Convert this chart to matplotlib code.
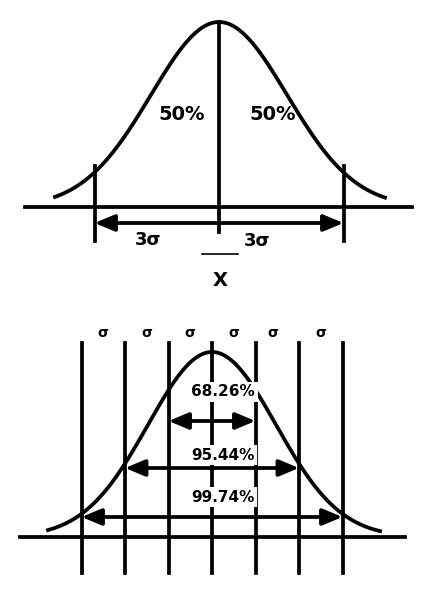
import numpy as np
import matplotlib
matplotlib.use("Agg")
import matplotlib.pyplot as plt

# ---- data (in sigma units) ----
top_halves = ["50%", "50%"]
top_range_sigma = [-3, 3]
top_range_labels = ["3σ", "3σ"]
bottom_lines_sigma = [-3, -2, -1, 0, 1, 2, 3]
bottom_sigma_label_pos = [-2.5, -1.5, -0.5, 0.5, 1.4, 2.5]
bottom_ranges = [1, 2, 3]
bottom_range_labels = ["68.26%", "95.44%", "99.74%"]

fig = plt.figure(figsize=(4.29, 5.91), dpi=100)
ax = fig.add_axes([0, 0, 1, 1])
ax.set_xlim(0, 429); ax.set_ylim(591, 0); ax.axis("off")
K = "black"; LW = 2.7

def arrow(x0, x1, y):
    ax.annotate("", xy=(x1, y), xytext=(x0, y),
                arrowprops=dict(arrowstyle="<|-|>,head_length=1.2,head_width=0.5",
                                color=K, lw=LW, shrinkA=0, shrinkB=0), zorder=3)

# ---- top panel ----
cx, base, peak, sp = 219, 207, 22, 41.5
sc = 68.0
xs = np.linspace(55, 385, 400)
ax.plot(xs, base - (base - peak) * np.exp(-(xs - cx) ** 2 / (2 * sc ** 2)), color=K, lw=LW)
ax.plot([25, 412], [base, base], color=K, lw=LW)
ax.plot([cx, cx], [peak, 232], color=K, lw=LW)
for s in top_range_sigma:
    x = cx + s * sp
    ax.plot([x, x], [166, 241], color=K, lw=LW)
arrow(cx + top_range_sigma[0] * sp, cx + top_range_sigma[1] * sp, 223)
ax.text(182, 115, top_halves[0], ha="center", va="center", fontsize=14, weight="bold")
ax.text(273, 115, top_halves[1], ha="center", va="center", fontsize=14, weight="bold")
ax.text(148, 240, top_range_labels[0], ha="center", va="center", fontsize=13, weight="bold")
ax.text(257, 241, top_range_labels[1], ha="center", va="center", fontsize=13, weight="bold")
ax.plot([202, 238], [254, 254], color=K, lw=1.2)
ax.text(220, 280, "X", ha="center", va="center", fontsize=14, weight="bold")

# ---- bottom panel ----
cx2, base2, peak2, sp2 = 212, 537, 352, 43.5
sc2 = 64.0
xs = np.linspace(48, 380, 400)
ax.plot(xs, base2 - (base2 - peak2) * np.exp(-(xs - cx2) ** 2 / (2 * sc2 ** 2)), color=K, lw=LW, zorder=1)
ax.plot([20, 405], [base2, base2], color=K, lw=LW)
for s in bottom_lines_sigma:
    x = cx2 + s * sp2
    ax.plot([x, x], [343, 573], color=K, lw=LW, zorder=1)
for p in bottom_sigma_label_pos:
    ax.text(cx2 + p * sp2, 333, "σ", ha="center", va="center", fontsize=10, weight="bold")
arrow_y = [421, 468, 517]
label_y = [392, 455, 497]
for r, lab, ay, ly in zip(bottom_ranges, bottom_range_labels, arrow_y, label_y):
    arrow(cx2 - r * sp2, cx2 + r * sp2, ay)
    ax.text(cx2 + 11, ly, lab, ha="center", va="center", fontsize=11, weight="bold",
            bbox=dict(facecolor="white", edgecolor="none", pad=2), zorder=4)

fig.savefig("out.png", dpi=100)
